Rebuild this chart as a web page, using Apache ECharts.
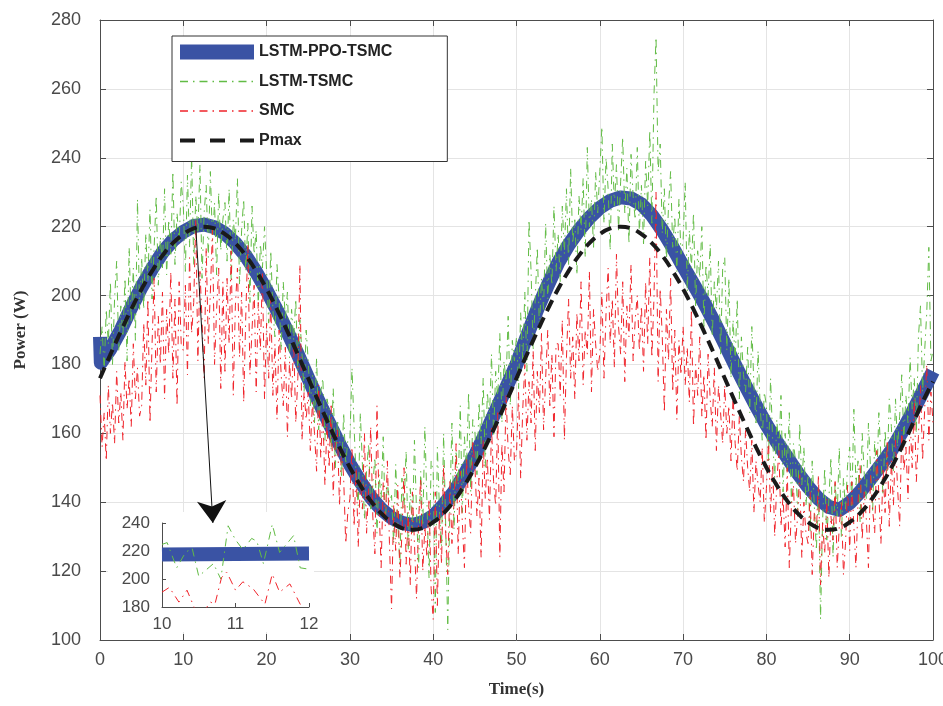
<!DOCTYPE html>
<html><head><meta charset="utf-8">
<script src="https://cdn.jsdelivr.net/npm/echarts@6/dist/echarts.min.js"></script>
<style>html,body{margin:0;padding:0;background:#fff}#c{width:943px;height:706px}</style>
</head><body><div id="c"></div>
<script>
// ---------- data ----------
const seriesNames = ['LSTM-PPO-TSMC', 'LSTM-TSMC', 'SMC', 'Pmax'];
const xTicks = {min: 0, max: 100, interval: 10};
const yTicks = {min: 100, max: 280, interval: 20};

// noisy series sampled every 0.25 s, t = 0 .. 100
const noiseStep = 0.25;
const greenValues = [
183,191,178,196,186,204,180,199,210,184,197,188,205,181,214,192,208,187,228,196,
211,196,218,204,225,199,214,229,203,217,208,231,206,222,212,236,209,224,215,233,
226,207,235,214,241,209,229,218,238,205,224,232,211,236,216,227,206,230,213,222,
227,210,231,204,222,216,234,203,219,228,207,221,198,226,212,219,197,215,208,220,
207,192,213,196,188,209,199,184,204,193,201,182,196,187,199,178,193,183,172,190,
181,168,177,163,182,161,172,176,158,170,167,155,173,150,164,160,147,166,151,158,
158,179,162,147,139,166,151,135,149,157,138,145,153,131,148,141,159,134,146,140,
142,128,151,134,122,147,138,155,126,144,131,158,137,121,149,133,162,140,118,152,
149,108,156,138,127,160,133,103,139,163,132,155,145,168,137,159,150,172,143,164,
161,148,169,157,176,150,172,164,183,159,178,170,189,163,181,175,194,168,187,181,
188,173,195,181,201,178,222,207,184,199,214,190,205,196,221,199,212,203,226,207,
218,204,226,212,231,209,237,215,222,206,229,219,234,211,243,220,228,214,236,224,
236,249,221,240,231,213,244,226,238,219,233,246,224,237,215,241,229,222,243,218,
232,215,239,226,248,221,258,275,236,244,218,231,210,226,236,214,223,207,228,212,
216,233,201,219,208,224,197,213,205,220,191,209,200,215,188,204,196,210,183,208,
211,184,205,176,193,181,199,170,188,177,172,185,166,191,174,163,184,168,158,172,
168,152,176,158,147,164,155,171,143,160,149,166,140,157,152,137,163,145,156,139,
148,131,152,139,126,144,106,135,150,129,141,153,124,146,136,156,130,147,138,151,
156,139,167,145,152,134,160,148,141,163,150,137,158,146,166,153,142,161,149,170,
162,149,170,156,165,177,158,171,163,182,167,176,160,188,197,172,184,195,214,181,
184];
const redValues = [
171,156,166,152,174,160,169,157,178,163,172,158,181,167,176,162,186,170,179,165,
168,192,174,199,163,186,205,172,194,180,201,170,196,183,207,176,199,168,204,186,
184,203,177,211,189,198,222,181,207,193,176,214,186,201,219,180,196,208,173,204,
178,205,186,213,171,197,208,182,201,169,194,215,177,190,203,172,198,184,207,170,
192,176,199,171,186,164,190,177,168,185,159,181,170,187,163,176,209,158,172,164,
172,155,169,160,149,174,153,166,145,163,150,168,142,158,161,139,156,147,128,137,
141,156,133,150,127,147,138,160,131,144,162,136,125,168,139,121,146,133,152,128,
109,139,126,145,118,131,150,122,137,116,143,128,112,135,147,120,133,124,141,115,
106,143,110,137,122,151,131,119,146,128,140,157,125,149,134,121,153,139,131,158,
151,136,147,124,158,141,153,135,162,146,139,166,124,157,143,171,155,148,168,152,
154,172,147,167,180,158,175,163,184,155,178,166,189,161,176,190,168,183,159,186,
186,171,193,158,182,199,176,188,170,195,181,204,174,190,183,207,172,196,186,178,
183,201,176,195,208,186,199,179,212,191,183,204,175,197,188,209,181,193,200,184,
197,178,204,186,211,182,199,230,175,202,188,166,196,181,205,172,190,164,187,177,
191,174,185,169,196,162,180,171,188,165,177,158,183,170,162,179,155,174,166,157,
174,160,168,152,171,157,149,165,153,146,161,150,143,158,137,152,145,140,156,134,
144,158,137,151,130,146,155,133,142,127,150,121,139,145,128,136,148,124,140,131,
128,143,119,137,131,148,116,134,125,141,118,136,129,146,121,133,140,119,128,145,
126,146,133,121,140,151,129,143,135,121,148,138,131,155,142,128,150,137,158,133,
152,139,158,144,133,161,149,156,141,164,150,170,146,159,174,152,167,180,158,172,
163];

// Pmax every 1.25 s
const pmaxStep = 1.25;
const pmaxValues = [
176,182.9,189.6,196,201.9,207.1,211.6,215.2,217.8,219.5,220,219.5,217.8,215.2,211.6,207.1,201.9,196,189.6,182.9,176,
169.1,162.4,156,150.1,144.9,140.4,136.8,134.2,132.5,132,132.5,134.2,136.8,140.4,144.9,150.1,156,162.4,169.1,176,
182.9,189.6,196,201.9,207.1,211.6,215.2,217.8,219.5,220,219.5,217.8,215.2,211.6,207.1,201.9,196,189.6,182.9,176,
169.1,162.4,156,150.1,144.9,140.4,136.8,134.2,132.5,132,132.5,134.2,136.8,140.4,144.9,150.1,156,162.4,169.1,175];

// LSTM-PPO-TSMC [t, P]
const blueTimes = [0,0.1,1.25,2.5,3.75,5,6.25,7.5,8.75,10,11.25,12.5,13.75,15,16.25,17.5,18.75,20,21.25,22.5,23.75,25,
26.25,27.5,28.75,30,31.25,32.5,33.75,35,36.25,37.5,38.75,40,41.25,42.5,43.75,45,46.25,47.5,48.75,50,
51.25,52.5,53.75,55,56.25,57.5,58.75,60,61.25,62.5,63.75,65,66.25,67.5,68.75,70,71.25,72.5,73.75,75,
76.25,77.5,78.75,80,81.25,82.5,83.75,85,86.25,87.5,88.75,90,91.25,92.5,93.75,95,96.25,97.5,98.75,100];
const blueValues = [188,180.5,184.5,190,196.5,202.5,207.8,212.5,216,218.5,220.2,220.6,219.8,218,215.2,211.5,206.8,201.5,195.7,189.5,182.9,176,
169.3,163,156.8,151,146,141.5,138,135.5,134,133.4,134.2,136,139.2,143,148,153.5,159.8,166.5,173.2,180,
188.2,196,203,209.5,214.7,219,222.6,225.5,227.5,228.5,228.2,226.5,223.3,219,214,208.5,203.3,198,192.2,186,
179.8,173.8,168,162.5,157.5,153,148.5,144.5,141,138.6,137.8,139.8,143,146.8,150.8,155,160.3,166,172,178];

// inset (zoom of 10..12 s)
const insetX = {min: 10, max: 12, interval: 1};
const insetY = {min: 180, max: 240, interval: 20};
const insetBlueTimes = [10, 12];
const insetBlueValues = [217.5, 218.3];
const insetGreenTimes = [10,10.07,10.2,10.32,10.41,10.5,10.7,10.8,10.9,11,11.1,11.22,11.29,11.38,11.5,11.6,11.79,11.88,12];
const insetGreenValues = [224.7,226,208,219,222,202,211,200,238,228,221,229,227,211,239,219,231,208,207];
const insetRedTimes = [10,10.1,10.23,10.34,10.5,10.66,10.72,10.81,10.88,11,11.1,11.24,11.4,11.5,11.6,11.74,11.88,12];
const insetRedValues = [190.6,194,183.5,192,172,183.5,182,201,205,192,198,193,182,203.5,190.6,196.5,182,175];

// arrow annotation: from curve peak to inset
const arrowFrom = [11.5, 220];
const arrowTo = [13.55, 134.0];

// ---------- build ----------
const zip = (ts, vs) => vs.map((v, i) => [ts[i], v]);
const greenPoints = greenValues.map((v, i) => [i * noiseStep, v]);
const redPoints = redValues.map((v, i) => [i * noiseStep, v]);
const pmaxPoints = pmaxValues.map((v, i) => [i * pmaxStep, v]);
const bluePoints = zip(blueTimes, blueValues);

const C_BLUE = '#3a53a4', C_GREEN = '#62bc45', C_RED = '#f0232a', C_BLACK = '#1a1a1a';
const AX = '#4d4d4d';
const dashDot = [8, 5, 1.5, 5];
const labelFont = {color: '#4a4a4a', fontSize: 18, fontFamily: 'Liberation Sans, Arial, sans-serif'};
const nameFont = {fontFamily: 'Liberation Serif, Times New Roman, serif', fontWeight: 'bold', fontSize: 17, color: '#333'};

function mainAxis(extra) {
  return Object.assign({
    type: 'value', gridIndex: 0,
    axisLine: {show: true, onZero: false, lineStyle: {color: AX, width: 1}},
    axisTick: {show: true, inside: true, length: 6, lineStyle: {color: AX}},
    splitLine: {show: false}
  }, extra);
}

const chart = echarts.init(document.getElementById('c'), null, {renderer: 'canvas'});
chart.setOption({
  animation: false,
  backgroundColor: '#fff',
  grid: [
    {left: 100, right: 10, top: 20, bottom: 66, outerBoundsMode: 'none', containLabel: false},
    {left: 162, width: 147, top: 523, height: 84, outerBoundsMode: 'none', containLabel: false}
  ],
  xAxis: [
    mainAxis(Object.assign({}, xTicks, {position: 'bottom',
      axisLabel: Object.assign({margin: 11}, labelFont),
      splitLine: {show: true, lineStyle: {color: '#e4e4e4', width: 1}},
      name: 'Time(s)', nameLocation: 'middle', nameGap: 41, nameTextStyle: nameFont})),
    mainAxis(Object.assign({}, xTicks, {position: 'top', axisLabel: {show: false}})),
    {type: 'value', gridIndex: 1, min: insetX.min, max: insetX.max, interval: insetX.interval, z: 20,
      axisLine: {onZero: false, lineStyle: {color: AX}},
      axisTick: {inside: true, length: 4, lineStyle: {color: AX}},
      axisLabel: Object.assign({margin: 9}, labelFont, {fontSize: 17}),
      splitLine: {show: false}}
  ],
  yAxis: [
    mainAxis(Object.assign({}, yTicks, {position: 'left',
      axisLabel: Object.assign({margin: 19}, labelFont),
      splitLine: {show: true, lineStyle: {color: '#e4e4e4', width: 1}},
      name: 'Power (W)', nameLocation: 'middle', nameGap: 71, nameTextStyle: nameFont})),
    mainAxis(Object.assign({}, yTicks, {position: 'right', axisLabel: {show: false}})),
    {type: 'value', gridIndex: 1, min: insetY.min, max: insetY.max, interval: insetY.interval, z: 20,
      axisLine: {onZero: false, lineStyle: {color: AX}},
      axisTick: {inside: true, length: 4, lineStyle: {color: AX}},
      axisLabel: Object.assign({margin: 12}, labelFont, {fontSize: 17}),
      splitLine: {show: false}}
  ],
  graphic: [
    {type: 'rect', z: 10, silent: true, shape: {x: 108, y: 512, width: 206, height: 120}, style: {fill: '#fff'}}
  ],
  legend: {
    orient: 'vertical', left: 172, top: 36, z: 30,
    padding: [8, 55, 13, 6], itemWidth: 74, itemHeight: 15, itemGap: 13.5,
    backgroundColor: '#fff', borderColor: '#333', borderWidth: 1, borderRadius: 0,
    selectedMode: false,
    textStyle: {fontFamily: 'Liberation Sans, Arial, sans-serif', fontWeight: 'bold', fontSize: 16, color: '#222'},
    data: [
      {name: seriesNames[0], icon: 'rect', itemStyle: {color: C_BLUE}},
      {name: seriesNames[1], lineStyle: {width: 1.3, color: C_GREEN}, itemStyle: {opacity: 0}},
      {name: seriesNames[2], lineStyle: {width: 1.3, color: C_RED}, itemStyle: {opacity: 0}},
      {name: seriesNames[3], lineStyle: {width: 4, color: C_BLACK, type: [15, 15]}, itemStyle: {opacity: 0}}
    ]
  },
  series: [
    {name: seriesNames[0], type: 'line', data: bluePoints, symbol: 'none', z: 2,
      color: C_BLUE, itemStyle: {color: C_BLUE},
      lineStyle: {color: C_BLUE, width: 14, join: 'round'}},
    {name: seriesNames[1], type: 'line', data: greenPoints, symbol: 'none', z: 3,
      color: C_GREEN, itemStyle: {color: C_GREEN},
      lineStyle: {color: C_GREEN, width: 1, type: dashDot}},
    {name: seriesNames[2], type: 'line', data: redPoints, symbol: 'none', z: 4,
      color: C_RED, itemStyle: {color: C_RED},
      lineStyle: {color: C_RED, width: 1, type: dashDot}},
    {name: seriesNames[3], type: 'line', data: pmaxPoints, symbol: 'none', smooth: true, z: 15,
      color: C_BLACK, itemStyle: {color: C_BLACK},
      lineStyle: {color: C_BLACK, width: 4, type: [12, 7]},
      markLine: {silent: true, z: 25, symbol: ['none', 'arrow'], symbolSize: 22, animation: false,
        lineStyle: {color: '#111', width: 1, type: 'solid'}, label: {show: false},
        data: [[{coord: arrowFrom}, {coord: arrowTo}]]}},
    {name: seriesNames[0], type: 'line', xAxisIndex: 2, yAxisIndex: 2, z: 20,
      data: zip(insetBlueTimes, insetBlueValues), symbol: 'none', color: C_BLUE,
      lineStyle: {color: C_BLUE, width: 14}},
    {name: seriesNames[1], type: 'line', xAxisIndex: 2, yAxisIndex: 2, z: 21,
      data: zip(insetGreenTimes, insetGreenValues), symbol: 'none', color: C_GREEN,
      lineStyle: {color: C_GREEN, width: 1, type: dashDot}},
    {name: seriesNames[2], type: 'line', xAxisIndex: 2, yAxisIndex: 2, z: 21,
      data: zip(insetRedTimes, insetRedValues), symbol: 'none', color: C_RED,
      lineStyle: {color: C_RED, width: 1, type: dashDot}}
  ]
});
</script>
</body></html>
